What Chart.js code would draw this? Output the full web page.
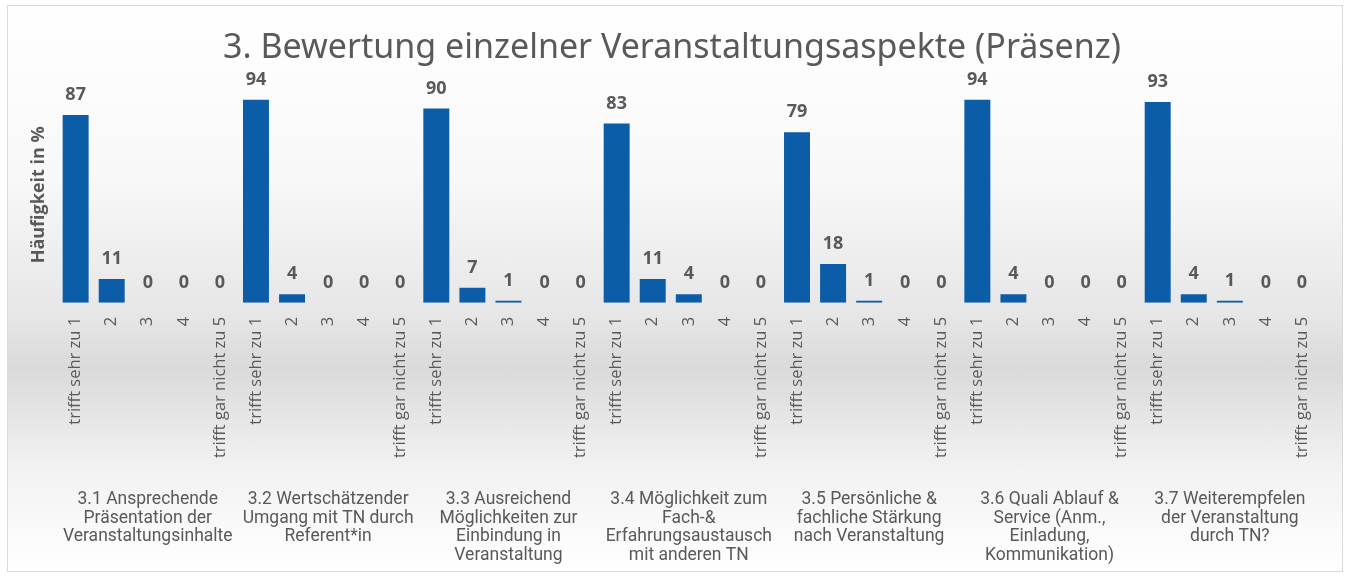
<!DOCTYPE html>
<html>
<head>
<meta charset="utf-8">
<script src="https://cdn.jsdelivr.net/npm/chart.js@4"></script>
<style>
    html, body { margin: 0; padding: 0; background: #ffffff; }
    .frame {
        position: absolute; left: 7px; top: 5px; width: 1334px; height: 565px;
        border: 1px solid #d9d9d9;
        background: linear-gradient(to bottom, #ffffff 0%, #f8f8f8 30%, #e6e6e6 55%, #dadada 64%, #f2f2f2 82%, #ffffff 100%);
    }
    .chart-box { position: absolute; left: 0; top: 0; width: 1349px; height: 576px; }
</style>
</head>
<body>
<div class="frame"></div>
<div class="chart-box"><canvas id="myChart" width="1349" height="576"></canvas></div>
<script>
const titleText = '3. Bewertung einzelner Veranstaltungsaspekte (Präsenz)';
const yTitle = 'Häufigkeit in %';

const ratingLabels = ['trifft sehr zu 1', '2', '3', '4', 'trifft gar nicht zu 5'];

const groupLabels = [
    ['3.1 Ansprechende', 'Präsentation der', 'Veranstaltungsinhalte'],
    ['3.2 Wertschätzender', 'Umgang mit TN durch', 'Referent*in'],
    ['3.3 Ausreichend', 'Möglichkeiten zur', 'Einbindung in', 'Veranstaltung'],
    ['3.4 Möglichkeit zum', 'Fach-&', 'Erfahrungsaustausch', 'mit anderen TN'],
    ['3.5 Persönliche &', 'fachliche Stärkung', 'nach Veranstaltung'],
    ['3.6 Quali Ablauf &', 'Service (Anm.,', 'Einladung,', 'Kommunikation)'],
    ['3.7 Weiterempfelen', 'der Veranstaltung', 'durch TN?']
];

const v31 = [87, 11, 0, 0, 0];
const v32 = [94, 4, 0, 0, 0];
const v33 = [90, 7, 1, 0, 0];
const v34 = [83, 11, 4, 0, 0];
const v35 = [79, 18, 1, 0, 0];
const v36 = [94, 4, 0, 0, 0];
const v37 = [93, 4, 1, 0, 0];

const allGroups = [v31, v32, v33, v34, v35, v36, v37];

// flatten into one category per bar
let labels = [];
let values = [];
allGroups.forEach(g => {
    g.forEach((v, i) => {
        labels.push(ratingLabels[i]);
        values.push(v);
    });
});

const grey = '#595959';

const valueLabels = {
    id: 'valueLabels',
    afterDatasetsDraw(chart) {
        const ctx = chart.ctx;
        const meta = chart.getDatasetMeta(0);
        ctx.save();
        ctx.font = 'bold 18px "Open Sans", sans-serif';
        ctx.fillStyle = grey;
        ctx.textAlign = 'center';
        ctx.textBaseline = 'bottom';
        meta.data.forEach((bar, i) => {
            ctx.fillText(values[i], bar.x, bar.y - 11);
        });
        ctx.restore();
    }
};

new Chart(document.getElementById('myChart'), {
    type: 'bar',
    data: {
        labels: labels,
        datasets: [{
            data: values,
            backgroundColor: '#0B5DA8',
            borderWidth: 0,
            barPercentage: 0.72,
            categoryPercentage: 1,
            xAxisID: 'x'
        }]
    },
    options: {
        responsive: false,
        animation: false,
        // negative bottom padding: the group axis counts its padding twice
        layout: { padding: { left: 24, right: 29, top: 8, bottom: -7 } },
        plugins: {
            legend: { display: false },
            tooltip: { enabled: false },
            title: {
                display: true,
                text: titleText,
                color: grey,
                font: { family: '"Noto Sans", sans-serif', size: 34, weight: 'normal' },
                padding: { top: 20, bottom: 18 }
            }
        },
        scales: {
            x: {
                grid: { display: false },
                border: { display: false },
                ticks: {
                    autoSkip: false,
                    minRotation: 90,
                    maxRotation: 90,
                    padding: 6,
                    color: grey,
                    font: { family: '"Open Sans", sans-serif', size: 16.5 }
                }
            },
            x2: {
                type: 'category',
                labels: groupLabels,
                position: 'bottom',
                grid: { display: false },
                border: { display: false },
                ticks: {
                    autoSkip: false,
                    maxRotation: 0,
                    minRotation: 0,
                    padding: 18,
                    color: grey,
                    font: { family: '"Liberation Sans Narrow", "Roboto", sans-serif', size: 17.5, lineHeight: 1.07 }
                }
            },
            y: {
                min: 0,
                max: 100,
                grid: { display: false },
                border: { display: false },
                ticks: { display: false },
                title: {
                    display: true,
                    text: yTitle,
                    color: grey,
                    font: { family: '"Open Sans", sans-serif', size: 18, weight: 'bold' },
                    padding: { top: 4, bottom: 0 }
                }
            }
        }
    },
    plugins: [valueLabels]
});
</script>
</body>
</html>
